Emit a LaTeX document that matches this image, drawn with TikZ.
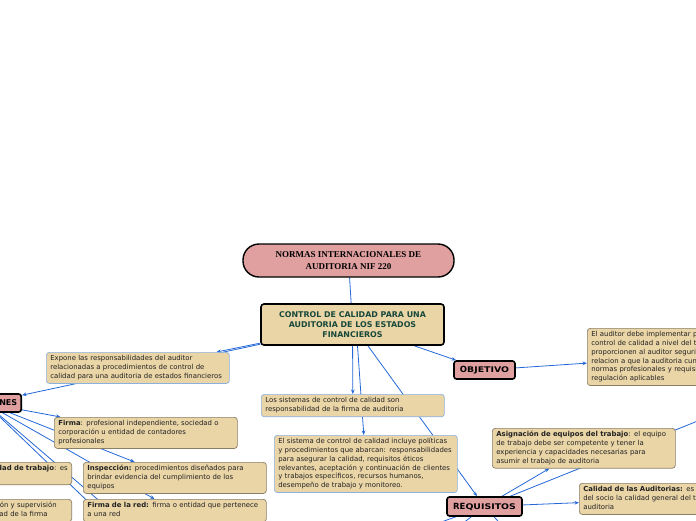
\documentclass[tikz,border=0pt]{standalone}
\usepackage{fontspec}
\setmainfont{DejaVu Sans}
\newfontfamily\tnr{Liberation Serif}
\usepackage{graphicx}
\usetikzlibrary{arrows.meta}
\pgfdeclarelayer{bg}
\pgfsetlayers{bg,main}
\definecolor{pinkf}{HTML}{E0A0A0}
\definecolor{wheatf}{HTML}{EAD5A7}
\definecolor{linkc}{HTML}{2468D8}
\definecolor{blueb}{HTML}{8CB0E0}
\definecolor{grayb}{HTML}{8A7E66}
\definecolor{greent}{HTML}{17483A}
\definecolor{txtc}{HTML}{222222}
\newcommand\tx[1]{\mbox{\strut #1}}
\newcommand\capA[2]{{\fontsize{8.5}{9}\selectfont #1}\scalebox{1.2}[1]{\fontsize{7.8}{9}\selectfont #2}}
\begin{document}
\begin{tikzpicture}[x=1pt,y=-1pt,
  leaf/.style={draw=grayb, line width=0.7pt, fill=wheatf, rounded corners=3pt, text width=175pt, align=left, inner xsep=4pt, inner ysep=2.5pt, text=txtc, font=\fontsize{6.9}{8.7}\selectfont},
  leafblue/.style={leaf, draw=blueb},
  pinknode/.style={draw=black, line width=1.6pt, fill=pinkf, rounded corners=2.5pt, font=\bfseries, inner sep=0pt},
  link/.style={draw=linkc, line width=0.8pt},
  arr/.style={link, -{Stealth[length=4.5pt,width=3.6pt]}},
]
\useasboundingbox (0,0) rectangle (696,520);
\clip (0,0) rectangle (696,520);

% main nodes
\node[draw=black, line width=1.4pt, fill=pinkf, rounded corners=16pt, minimum width=211pt, minimum height=33pt, align=center, font=\tnr\bfseries\fontsize{9}{11.5}\selectfont] (title) at (348.5,260.5) {NORMAS INTERNACIONALES DE\\AUDITORIA NIF 220};
\node[draw=black, line width=1.6pt, fill=wheatf, rounded corners=3pt, minimum width=183pt, minimum height=41pt, align=center, text=greent, font=\bfseries\fontsize{7.9}{10}\selectfont] (central) at (352.5,324.5) {CONTROL DE CALIDAD PARA UNA\\AUDITORIA DE LOS ESTADOS\\FINANCIEROS};

\node[pinknode, minimum width=61pt, minimum height=18pt] (objetivo) at (484.5,370) {\capA{O}{BJETIVO}};
\node[pinknode, minimum width=75pt, minimum height=19pt] (req) at (484.5,506.5) {\capA{RE}{QUISITOS}};
\node[pinknode, minimum height=18pt, inner xsep=4pt, anchor=east] (def) at (22,403) {\fontsize{8}{9}\selectfont DEFINICIONES};

% first-level text nodes
\node[leafblue, anchor=north west] (expone) at (46,352) {\tx{Expone las responsabilidades del auditor}\\\tx{relacionadas a procedimientos de control de}\\\tx{calidad para una auditoria de estados financieros}};
\node[leafblue, anchor=north west] (lossis) at (261,394) {\tx{Los sistemas de control de calidad son}\\\tx{responsabilidad de la firma de auditoria}};
\node[leafblue, anchor=north west] (elsis) at (274,435) {\tx{El sistema de control de calidad incluye políticas}\\\tx{y procedimientos que abarcan: responsabilidades}\\\tx{para asegurar la calidad, requisitos éticos}\\\tx{relevantes, aceptación y continuación de clientes}\\\tx{y trabajos específicos, recursos humanos,}\\\tx{desempeño de trabajo y monitoreo.}};

% definiciones
\node[leaf, anchor=north west] (firma) at (54,417) {\tx{\textbf{Firma}: profesional independiente, sociedad o}\\\tx{corporación u entidad de contadores}\\\tx{profesionales}};
\node[leaf, anchor=north west] (insp) at (83,462) {\tx{\textbf{Inspección:} procedimientos diseñados para}\\\tx{brindar evidencia del cumplimiento de los}\\\tx{equipos}};
\node[leaf, anchor=north west] (firmared) at (83,499) {\tx{\textbf{Firma de la red:} firma o entidad que pertenece}\\\tx{a una red}};
\node[leaf, anchor=north east] (trabajo) at (72,462) {\makebox[175pt][r]{\strut\textbf{Revisión de control de calidad de trabajo}: es}\\\tx{un proceso diseñado}};
\node[leaf, anchor=north east] (superv) at (72,499) {\makebox[175pt][r]{\strut\textbf{Monitoreo}: proceso de consideración y supervisión\hspace*{11pt}}\\\makebox[175pt][r]{\strut continua del sistema de control de calidad de la firma\hspace*{20pt}}};

% objetivo
\node[leaf, anchor=north west] (auditor) at (587,328) {\tx{El auditor debe implementar procedimientos de}\\\tx{control de calidad a nivel del trabajo que}\\\tx{proporcionen al auditor seguridad razonable en}\\\tx{relacion a que la auditoria cumple con las}\\\tx{normas profesionales y requisitos de}\\\tx{regulación aplicables}};

% requisitos
\node[leaf, anchor=north west] (asig) at (492,428) {\tx{\textbf{Asignación de equipos del trabajo}: el equipo}\\\tx{de trabajo debe ser competente y tener la}\\\tx{experiencia y capacidades necesarias para}\\\tx{asumir el trabajo de auditoria}};
\node[leaf, anchor=north west] (calidad) at (579,483) {\tx{\textbf{Calidad de las Auditorias:} es responsabilidad}\\\tx{del socio la calidad general del trabajo de}\\\tx{auditoria}};

% free ends of connectors leaving the frame
\coordinate (offA) at (128,540);
\coordinate (offB) at (145,540);
\coordinate (offR) at (800,380);
\coordinate (offD1) at (380,544);
\coordinate (offD2) at (440,541);
\coordinate (offD3) at (520,545);

\begin{pgfonlayer}{bg}
\clip (0,0) rectangle (696,520);
\draw[link] (title) -- (central);
\draw[arr] (central) -- (expone);
\draw[arr] (central) -- (def);
\draw[arr] (central) -- (lossis);
\draw[arr] ([xshift=5pt]central.south) -- (elsis);
\draw[arr] (central) -- (objetivo);
\draw[arr] (central) -- (req);
\draw[arr] (objetivo) -- (auditor);
\draw[arr] (def) -- (firma);
\draw[arr] (def) -- (insp);
\draw[arr] (def) -- (firmared);
\draw[arr] (def) -- (trabajo);
\draw[arr] (def) -- (superv);
\draw[link] (def) -- (offA);
\draw[link] (def) -- (offB);
\draw[arr] (req) -- (asig);
\draw[arr] (req) -- (calidad);
\draw[link] (req) -- (offR);
\draw[link] (req) -- (offD1);
\draw[link] (req) -- (offD2);
\draw[link] (req) -- (offD3);
\end{pgfonlayer}
\end{tikzpicture}
\end{document}
